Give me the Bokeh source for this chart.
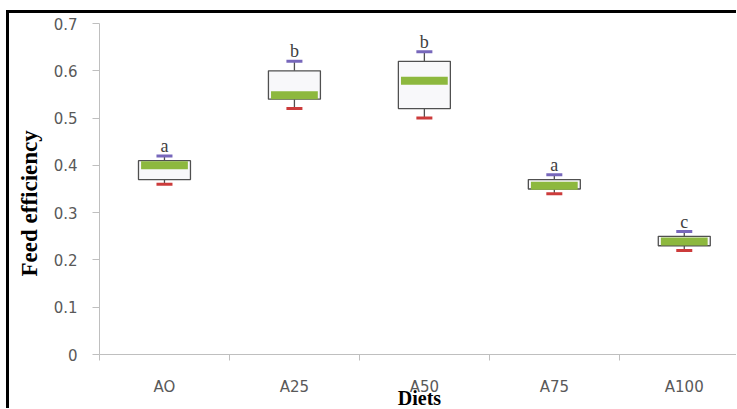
from bokeh.plotting import figure
from bokeh.models import Range1d, FixedTicker, NumeralTickFormatter, ColumnDataSource, Title
from bokeh.embed import file_html
from bokeh.resources import INLINE
from bokeh.core.properties import value

# ---- data ----
diets = ["AO", "A25", "A50", "A75", "A100"]
whisker_low = [0.36, 0.52, 0.50, 0.34, 0.22]
box_low = [0.37, 0.54, 0.52, 0.35, 0.23]
median = [0.40, 0.548, 0.579, 0.357, 0.239]
box_high = [0.41, 0.60, 0.62, 0.37, 0.25]
whisker_high = [0.42, 0.62, 0.64, 0.38, 0.26]
letters = ["a", "b", "b", "a", "c"]
y_ticks = [0, 0.1, 0.2, 0.3, 0.4, 0.5, 0.6, 0.7]
y_title = "Feed efficiency"
x_title = "Diets"

# category centres and boundaries on a numeric axis
xs = [i + 0.5 for i in range(len(diets))]
bounds = list(range(len(diets) + 1))

src = ColumnDataSource(dict(x=xs, wlo=whisker_low, q1=box_low, med=median,
                            q3=box_high, whi=whisker_high, letter=letters))

p = figure(width=730, height=398, output_backend="svg", toolbar_location=None,
           x_range=Range1d(0, 4.925), y_range=Range1d(0, 0.7),
           min_border_left=88, min_border_top=10, min_border_bottom=53,
           min_border_right=0, background_fill_color="white",
           border_fill_color="white")
p.outline_line_color = None
p.xgrid.grid_line_color = None
p.ygrid.grid_line_color = None
# black frame on the left and top of the picture
p.styles = {"margin-left": "6px", "margin-top": "10px",
            "border-left": "3px solid #000", "border-top": "3px solid #000"}

axis_grey = "#bfbfbf"
label_grey = "#595959"

# x axis
xa = p.xaxis[0]
xa.ticker = FixedTicker(ticks=xs, minor_ticks=bounds)
xa.major_label_overrides = {x: d for x, d in zip(xs, diets)}
xa.major_tick_out = 0
xa.major_tick_in = 0
xa.major_tick_line_color = None
xa.minor_tick_out = 6
xa.minor_tick_in = 0
xa.minor_tick_line_color = axis_grey
xa.axis_line_color = axis_grey
xa.major_label_standoff = 17
xa.major_label_text_font = "DejaVu Sans"
xa.major_label_text_font_size = "15px"
xa.major_label_text_color = label_grey
xa.axis_label = x_title
xa.axis_label_standoff = -12
xa.axis_label_text_font = "Liberation Serif"
xa.axis_label_text_font_style = "bold"
xa.axis_label_text_font_size = "20px"
xa.axis_label_text_color = "#000000"

# y axis
ya = p.yaxis[0]
ya.ticker = FixedTicker(ticks=y_ticks, minor_ticks=[])
ya.formatter = NumeralTickFormatter(format="0.[0]")
ya.major_tick_out = 7
ya.major_tick_in = 0
ya.major_tick_line_color = axis_grey
ya.minor_tick_line_color = None
ya.axis_line_color = axis_grey
ya.major_label_standoff = 15
ya.major_label_text_font = "DejaVu Sans"
ya.major_label_text_font_size = "15px"
ya.major_label_text_color = label_grey

# y axis title (vertical, starting a little above the frame bottom)
p.add_layout(Title(text=y_title, align="left", offset=78, standoff=14,
                   vertical_align="top",
                   text_font="Liberation Serif", text_font_style="bold",
                   text_font_size="23px", text_color="#000000"), "left")

# whisker stems
p.segment(x0="x", y0="wlo", x1="x", y1="whi", line_color="#505050",
          line_width=1.3, source=src)
# boxes
p.vbar(x="x", width=0.4, bottom="q1", top="q3", fill_color="#f8f8fa",
       line_color="#505050", line_width=1.3, source=src)
# median bands
p.rect(x="x", y="med", width=0.36, height=8, height_units="screen",
       fill_color="#8DB83E", line_color=None, source=src)
# whisker caps
p.rect(x="x", y="whi", width=16, width_units="screen", height=3,
       height_units="screen", fill_color="#7767BB", line_color=None, source=src)
p.rect(x="x", y="wlo", width=16, width_units="screen", height=3,
       height_units="screen", fill_color="#CC3B3B", line_color=None, source=src)
# significance letters
p.text(x="x", y="whi", text="letter", y_offset=-10, text_align="center",
       text_baseline="alphabetic", text_font=value("Liberation Serif"),
       text_font_size="18px", text_color="#404040", source=src)

open("out.html", "w").write(file_html(p, INLINE))
